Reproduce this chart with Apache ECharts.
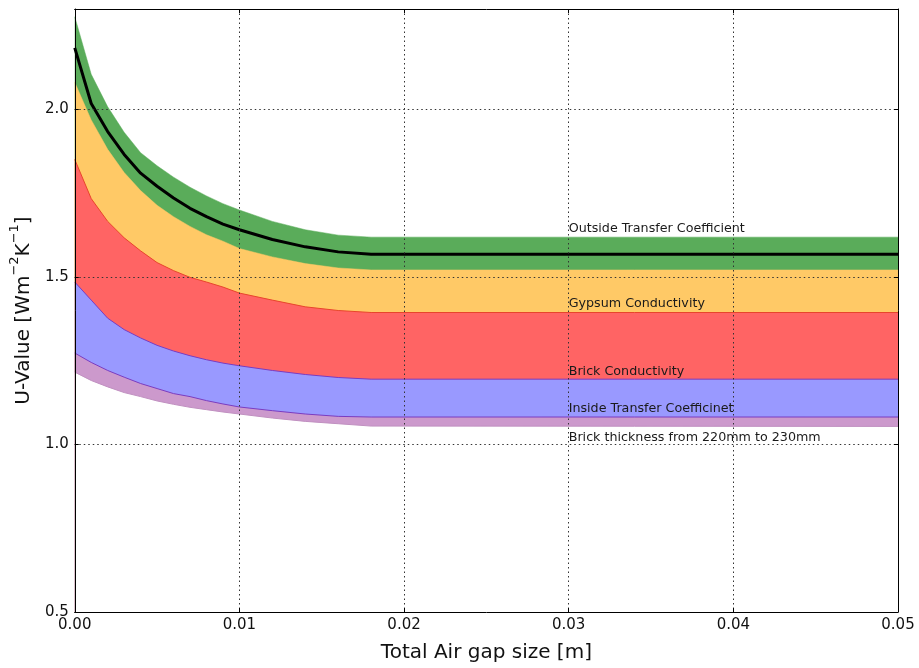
<!DOCTYPE html>
<html>
<head>
<meta charset="utf-8">
<script src="https://cdn.jsdelivr.net/npm/echarts@6/dist/echarts.min.js"></script>
<style>
html,body{margin:0;padding:0;background:#fff;}
#chart{width:919px;height:668px;}
</style>
</head>
<body>
<div id="chart"></div>
<script>
// Air gap size [m]
const gap = [0, 0.001, 0.002, 0.003, 0.004, 0.005, 0.006, 0.007, 0.008, 0.009, 0.010, 0.012, 0.014, 0.016, 0.018, 0.05];
// Band boundaries (U-value)
const greenTop     = [2.277, 2.105, 2.008, 1.932, 1.871, 1.832, 1.798, 1.768, 1.742, 1.719, 1.700, 1.666, 1.641, 1.625, 1.619, 1.619];
const meanU        = [2.184, 2.018, 1.934, 1.866, 1.810, 1.771, 1.736, 1.705, 1.680, 1.658, 1.641, 1.612, 1.590, 1.575, 1.568, 1.568];
const greenBottom  = [2.081, 1.969, 1.881, 1.812, 1.758, 1.714, 1.680, 1.651, 1.626, 1.607, 1.585, 1.560, 1.540, 1.527, 1.521, 1.521];
const orangeBottom = [1.851, 1.734, 1.666, 1.617, 1.578, 1.543, 1.519, 1.499, 1.485, 1.470, 1.452, 1.431, 1.411, 1.400, 1.394, 1.394];
const redBottom    = [1.485, 1.431, 1.377, 1.343, 1.318, 1.296, 1.279, 1.265, 1.253, 1.243, 1.235, 1.221, 1.209, 1.200, 1.195, 1.195];
const blueBottom   = [1.273, 1.245, 1.221, 1.201, 1.182, 1.167, 1.152, 1.143, 1.131, 1.121, 1.112, 1.101, 1.091, 1.084, 1.082, 1.082];
const purpleBottom = [1.216, 1.191, 1.172, 1.155, 1.143, 1.130, 1.120, 1.111, 1.104, 1.097, 1.091, 1.079, 1.069, 1.062, 1.055, 1.054];

const annotations = ['Outside Transfer Coefficient', 'Gypsum Conductivity', 'Brick Conductivity', 'Inside Transfer Coefficinet', 'Brick thickness from 220mm to 230mm'];
const annotX = [0.03, 0.03, 0.03, 0.03, 0.03];
const annotY = [1.643, 1.420, 1.218, 1.106, 1.019];

const xTicks = [0, 0.01, 0.02, 0.03, 0.04, 0.05];
const yTicks = [0.5, 1.0, 1.5, 2.0];

const pts = arr => gap.map((x, i) => [x, arr[i]]);

const chart = echarts.init(document.getElementById('chart'), null, {renderer: 'canvas'});
const FONT = 'DejaVu Sans';

function band(arr, fill, lineColor, lineWidth) {
  return {
    type: 'line', data: pts(arr), symbol: 'none', smooth: false,
    lineStyle: {color: lineColor, width: lineWidth},
    areaStyle: {color: fill, opacity: 1, origin: 'start'},
    silent: true, animation: false
  };
}

const gridSplit = {show: true, lineStyle: {color: '#333', width: 1, type: [1.5, 3]}};

chart.setOption({
  backgroundColor: '#ffffff',
  animation: false,
  grid: {left: 72, right: 21, top: 9, bottom: 49},
  xAxis: [{
    type: 'value', min: 0, max: 0.05, interval: 0.01, z: 5,
    name: 'Total Air gap size [m]', nameLocation: 'middle', nameGap: 31,
    nameTextStyle: {fontFamily: FONT, fontSize: 20, color: '#111'},
    axisLine: {show: true, onZero: false, lineStyle: {color: '#000', width: 1}},
    axisTick: {show: true, inside: true, length: 4, lineStyle: {color: '#000'}},
    axisLabel: {fontFamily: FONT, fontSize: 15, color: '#111', margin: 6,
      showMinLabel: true, showMaxLabel: true,
      formatter: v => xTicks.some(t => Math.abs(t - v) < 1e-9) ? v.toFixed(2) : ''},
    splitLine: gridSplit
  }, {
    type: 'value', min: 0, max: 0.05, interval: 0.01, position: 'top', z: 5,
    axisLine: {show: true, onZero: false, lineStyle: {color: '#000', width: 1}},
    axisTick: {show: true, inside: true, length: 4, lineStyle: {color: '#000'}},
    axisLabel: {show: false}, splitLine: {show: false}
  }],
  yAxis: [{
    type: 'value', min: 0.5, max: 2.3, interval: 0.5, z: 5,
    name: '{a|U-Value [Wm}{s|−2}{a|K}{s|−1}{a|]}', nameLocation: 'middle', nameGap: 32, nameRotate: 90,
    nameTextStyle: {fontFamily: FONT, fontSize: 20, color: '#111',
      rich: {
        a: {fontFamily: FONT, fontSize: 20, color: '#111', lineHeight: 26, verticalAlign: 'bottom'},
        s: {fontFamily: FONT, fontSize: 13, color: '#111', lineHeight: 14, verticalAlign: 'top'}
      }},
    axisLine: {show: true, onZero: false, lineStyle: {color: '#000', width: 1}},
    axisTick: {show: true, inside: true, length: 4, lineStyle: {color: '#000'}},
    axisLabel: {fontFamily: FONT, fontSize: 15, color: '#111', margin: 6,
      formatter: v => yTicks.some(t => Math.abs(t - v) < 1e-9) ? v.toFixed(1) : ''},
    splitLine: gridSplit
  }, {
    type: 'value', min: 0.5, max: 2.3, interval: 0.5, position: 'right', z: 5,
    axisLine: {show: true, onZero: false, lineStyle: {color: '#000', width: 1}},
    axisTick: {show: true, inside: true, length: 4, lineStyle: {color: '#000'}},
    axisLabel: {show: false}, splitLine: {show: false}
  }],
  series: [
    band(greenTop, '#5aac5a', '#5aac5a', 0.5),
    band(greenBottom, '#ffc966', '#ffc966', 0.5),
    band(orangeBottom, '#ff6464', '#e8452c', 1),
    band(redBottom, '#9999ff', '#7a3cc0', 1),
    band(blueBottom, '#cc99cc', '#7a3cc0', 1),
    band(purpleBottom, '#ffffff', '#c090c0', 1),
    {
      type: 'line', data: pts(meanU), symbol: 'none', smooth: false,
      lineStyle: {color: '#000', width: 3}, silent: true, animation: false, z: 3
    }
  ]
});

function drawAnnotations() {
  const g = annotations.map((t, i) => {
    const p = chart.convertToPixel({xAxisIndex: 0, yAxisIndex: 0}, [annotX[i], annotY[i]]);
    return {
      type: 'text', x: p[0], y: p[1], z: 10, silent: true,
      style: {text: t, fontFamily: FONT, fontSize: 12.7, fill: '#1a1a1a', align: 'left', verticalAlign: 'middle'}
    };
  });
  chart.setOption({graphic: g});
}
drawAnnotations();
</script>
</body>
</html>
